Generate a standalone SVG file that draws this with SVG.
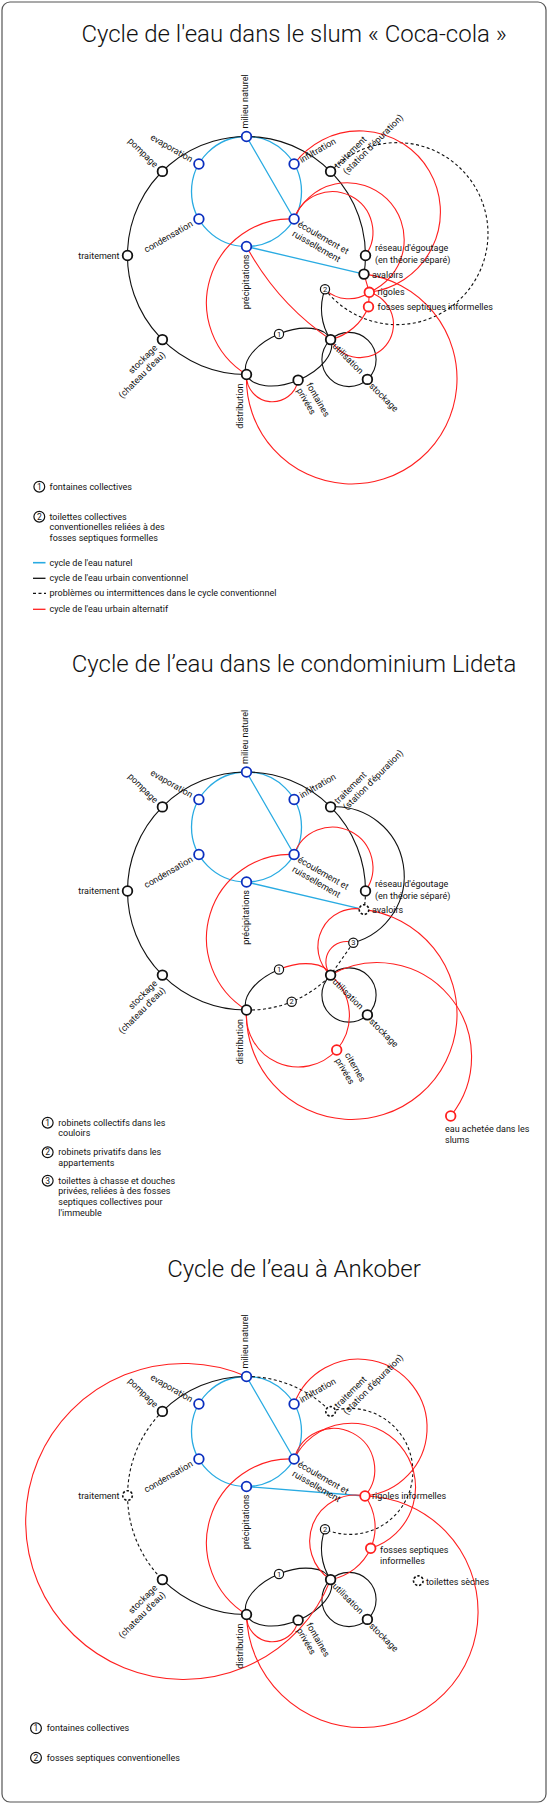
<svg xmlns="http://www.w3.org/2000/svg" width="550" height="1806" viewBox="0 0 550 1806">
<style>
text{font-family:Roboto,"Liberation Sans",Arial,sans-serif;font-size:9px;fill:#111}
.ti{font-size:24px;font-weight:300;text-anchor:middle}
.e{text-anchor:end}
.n{fill:#fff;stroke:#111;stroke-width:1.8}
.nb{fill:#fff;stroke:#0b2fbf;stroke-width:1.8}
.nr{fill:#fff;stroke:#ff1f1f;stroke-width:1.8}
.nd{fill:#fff;stroke:#111;stroke-width:1.6;stroke-dasharray:2.4 1.8}
.nm{fill:#fff;stroke:#111;stroke-width:1.2}
.d{font-size:7.5px;text-anchor:middle}
.dl{font-size:8.5px;text-anchor:middle}
.k{fill:none;stroke:#111;stroke-width:1.1}
.kd{fill:none;stroke:#111;stroke-width:1.1;stroke-dasharray:3 2.5}
.r{fill:none;stroke:#ff1f1f;stroke-width:1.1}
.b{fill:none;stroke:#29abe2;stroke-width:1.3}
.lb{stroke:#29abe2;stroke-width:1.6}
.lk{stroke:#111;stroke-width:1.3}
.lkd{stroke:#111;stroke-width:1.3;stroke-dasharray:3 2.5}
.lr{stroke:#ff1f1f;stroke-width:1.3}
</style>
<rect id="frame" x="2" y="2" width="544" height="1800" rx="8" fill="#fff" stroke="#555" stroke-width="1.2"/>

<!-- ================= Diagram 1 ================= -->
<text class="ti" x="294" y="42">Cycle de l'eau dans le slum « Coca-cola »</text>
<g id="slum">
<g id="slum-connectors">
<circle class="b" cx="246.5" cy="191.5" r="55"/>
<path class="b" d="M246.5 136.5L294.1 219M246.5 246.5L364 274.1"/>
<path class="k" d="M246.5 374.5A119 119 0 1 1 364 274.1"/>
<ellipse class="k" cx="288.55" cy="357.05" rx="45.5" ry="25" transform="rotate(-22.5 288.55 357.05)"/>
<circle class="k" cx="349" cy="359.5" r="27.1"/>
<path class="k" d="M325 289.3A56 56 0 0 0 330.6 339.6"/>
<path class="kd" d="M330.6 171.4A91 91 0 1 1 325 289.3"/>
<path class="r" d="M294.1 164A81 81 0 1 1 369.3 292.3"/>
<path class="r" d="M294.1 219A57 57 0 1 1 369.3 292.3"/>
<path class="r" d="M294.1 219A40.5 40.5 0 1 1 365.5 255.5"/>
<path class="r" d="M294.1 219A84 84 0 0 0 246.5 374.5"/>
<path class="r" d="M246.5 246.5A266 266 0 0 0 330.6 339.6"/>
<path class="r" d="M246.5 374.5A105.3 105.3 0 1 0 364 274.1"/>
<path class="r" d="M246.5 374.5A26 26 0 0 0 298.1 380.15"/>
<path class="r" d="M368.5 306.7A55 55 0 0 1 330.6 339.6"/>
<path class="r" d="M369.3 292.3A33.3 33.3 0 1 1 330.6 339.6"/>
<path class="r" d="M325 289.3A35 35 0 0 0 369.3 292.3"/>
<path class="r" d="M364 274.1L369.3 292.3L368.5 306.7"/>
</g>
<g id="s-milieu"><circle class="nb" cx="246.5" cy="136.5" r="4.8"/><text transform="translate(246.5 136.5) rotate(-90)" x="8" y="1.5">milieu naturel</text></g>
<g id="s-evaporation"><circle class="nb" cx="198.9" cy="164" r="4.8"/><text class="e" transform="translate(198.9 164) rotate(30)" x="-8" y="3">evaporation</text></g>
<g id="s-infiltration"><circle class="nb" cx="294.1" cy="164" r="4.8"/><text transform="translate(294.1 164) rotate(-30)" x="7" y="3">infiltration</text></g>
<g id="s-condensation"><circle class="nb" cx="198.9" cy="219" r="4.8"/><text class="e" transform="translate(198.9 219) rotate(-30)" x="-8" y="3">condensation</text></g>
<g id="s-ecoulement"><circle class="nb" cx="294.1" cy="219" r="4.8"/><text transform="translate(294.1 219) rotate(30)"><tspan x="6" y="4.5">écoulement et</tspan><tspan x="6" y="15.5">ruissellement</tspan></text></g>
<g id="s-precipitations"><circle class="nb" cx="246.5" cy="246.5" r="4.8"/><text class="e" transform="translate(246.5 246.5) rotate(-90)" x="-8" y="2">précipitations</text></g>
<g id="s-pompage"><circle class="n" cx="162.4" cy="171.4" r="4.8"/><text class="e" transform="translate(162.4 171.4) rotate(45)" x="-8" y="3.5">pompage</text></g>
<g id="s-traitement"><circle class="n" cx="127.5" cy="255.5" r="4.8"/><text class="e" x="119.5" y="258.5">traitement</text></g>
<g id="s-stockage"><circle class="n" cx="162.4" cy="339.6" r="4.8"/><text class="e" transform="translate(162.4 339.6) rotate(-45)"><tspan x="-9.5" y="3">stockage</tspan><tspan x="-8.5" y="13.5">(chateau d'eau)</tspan></text></g>
<g id="s-distribution"><circle class="n" cx="246.5" cy="374.5" r="4.8"/><text class="e" transform="translate(246.5 374.5) rotate(-90)" x="-9" y="-3.5">distribution</text></g>
<g id="s-station"><circle class="n" cx="330.6" cy="171.4" r="4.8"/><text transform="translate(330.6 171.4) rotate(-45)"><tspan x="7" y="3.5">traitement</tspan><tspan x="9" y="14">(station d'épuration)</tspan></text></g>
<g id="s-reseau"><circle class="n" cx="365.5" cy="255.5" r="4.8"/><text><tspan x="375" y="251">réseau d'égoutage</tspan><tspan x="375" y="263">(en théorie séparé)</tspan></text></g>
<g id="s-avaloirs"><circle class="n" cx="364" cy="274.1" r="4.8"/><text x="372" y="277.5">avaloirs</text></g>
<g id="s-rigoles"><circle class="nr" cx="369.3" cy="292.3" r="4.8"/><text x="377.5" y="295.3">rigoles</text></g>
<g id="s-fosses"><circle class="nr" cx="368.5" cy="306.7" r="4.8"/><text x="377.5" y="310">fosses septiques informelles</text></g>
<g id="s-utilisation"><circle class="n" cx="330.6" cy="339.6" r="4.8"/><text transform="translate(330.6 339.6) rotate(45)" x="6" y="4">utilisation</text></g>
<g id="s-stockage2"><circle class="n" cx="367.4" cy="379.4" r="4.8"/><text transform="translate(367.4 379.4) rotate(45)" x="6" y="4">stockage</text></g>
<g id="s-fontaines"><circle class="n" cx="298.1" cy="380.15" r="4.8"/><text transform="translate(298.1 380.15) rotate(60)"><tspan x="8" y="-4.5">fontaines</tspan><tspan x="8" y="6.5">privées</tspan></text></g>
<g id="s-n1"><circle class="nm" cx="279" cy="334" r="4.6"/><text class="d" x="279" y="336.7">1</text></g>
<g id="s-n2"><circle class="nm" cx="325" cy="289.3" r="4.6"/><text class="d" x="325" y="292">2</text></g>
</g>
<g id="legend1">
<circle class="nm" cx="39.3" cy="486.7" r="5.4"/><text class="dl" x="39.3" y="489.8">1</text>
<text x="49.5" y="489.8">fontaines collectives</text>
<circle class="nm" cx="39.3" cy="516.7" r="5.4"/><text class="dl" x="39.3" y="519.8">2</text>
<text><tspan x="49.5" y="519.6">toilettes collectives</tspan><tspan x="49.5" y="530.4">conventionelles reliées à des</tspan><tspan x="49.5" y="541.2">fosses septiques formelles</tspan></text>
<line class="lb" x1="33" y1="562.7" x2="45.5" y2="562.7"/><text x="49.5" y="565.7">cycle de l'eau naturel</text>
<line class="lk" x1="33" y1="578.3" x2="45.5" y2="578.3"/><text x="49.5" y="581.3">cycle de l'eau urbain conventionnel</text>
<line class="lkd" x1="33" y1="593.3" x2="46" y2="593.3"/><text x="49.5" y="596.3">problèmes ou intermittences dans le cycle conventionnel</text>
<line class="lr" x1="33" y1="609.3" x2="45.5" y2="609.3"/><text x="49.5" y="612.3">cycle de l'eau urbain alternatif</text>
</g>

<!-- ================= Diagram 2 ================= -->
<text class="ti" x="294" y="672">Cycle de l’eau dans le condominium Lideta</text>
<g id="lideta" transform="translate(0 635.5)">
<g id="lideta-connectors">
<circle class="b" cx="246.5" cy="191.5" r="55"/>
<path class="b" d="M246.5 136.5L294.1 219M246.5 246.5L364 274.1"/>
<path class="k" d="M246.5 374.5A119 119 0 1 1 365.5 255.5"/>
<path class="kd" d="M365.5 255.5A119 119 0 0 1 364 274.1"/>
<path class="k" d="M246.5 374.5A45.5 25 -22.5 0 1 278.98 333.95"/>
<circle class="k" cx="349" cy="359.5" r="27.1"/>
<path class="k" d="M330.6 171.4A69.2 69.2 0 0 1 353.3 307.2"/>
<path class="kd" d="M353.3 307.2L330.6 339.6"/>
<path class="kd" d="M246.5 374.5A112 112 0 0 0 330.6 339.6"/>
<path class="r" d="M278.98 333.95A45.5 25 -22.5 0 1 330.6 339.6"/>
<path class="r" d="M294.1 219A40.5 40.5 0 1 1 365.5 255.5"/>
<path class="r" d="M294.1 219A84 84 0 0 0 246.5 374.5"/>
<path class="r" d="M364 274.1A38 38 0 0 0 330.6 339.6"/>
<path class="r" d="M353.3 307.2A20.5 20.5 0 0 0 330.6 339.6"/>
<path class="r" d="M330.6 339.6A53 53 0 0 1 336.7 414.5"/>
<path class="r" d="M246.5 374.5A52 52 0 0 0 336.7 414.5"/>
<path class="r" d="M246.5 374.5A105.3 105.3 0 1 0 364 274.1"/>
<path class="r" d="M330.6 339.6A94.2 94.2 0 0 1 450.7 480.5"/>
</g>
<g id="l-milieu"><circle class="nb" cx="246.5" cy="136.5" r="4.8"/><text transform="translate(246.5 136.5) rotate(-90)" x="8" y="1.5">milieu naturel</text></g>
<g id="l-evaporation"><circle class="nb" cx="198.9" cy="164" r="4.8"/><text class="e" transform="translate(198.9 164) rotate(30)" x="-8" y="3">evaporation</text></g>
<g id="l-infiltration"><circle class="nb" cx="294.1" cy="164" r="4.8"/><text transform="translate(294.1 164) rotate(-30)" x="7" y="3">infiltration</text></g>
<g id="l-condensation"><circle class="nb" cx="198.9" cy="219" r="4.8"/><text class="e" transform="translate(198.9 219) rotate(-30)" x="-8" y="3">condensation</text></g>
<g id="l-ecoulement"><circle class="nb" cx="294.1" cy="219" r="4.8"/><text transform="translate(294.1 219) rotate(30)"><tspan x="6" y="4.5">écoulement et</tspan><tspan x="6" y="15.5">ruissellement</tspan></text></g>
<g id="l-precipitations"><circle class="nb" cx="246.5" cy="246.5" r="4.8"/><text class="e" transform="translate(246.5 246.5) rotate(-90)" x="-8" y="2">précipitations</text></g>
<g id="l-pompage"><circle class="n" cx="162.4" cy="171.4" r="4.8"/><text class="e" transform="translate(162.4 171.4) rotate(45)" x="-8" y="3.5">pompage</text></g>
<g id="l-traitement"><circle class="n" cx="127.5" cy="255.5" r="4.8"/><text class="e" x="119.5" y="258.5">traitement</text></g>
<g id="l-stockage"><circle class="n" cx="162.4" cy="339.6" r="4.8"/><text class="e" transform="translate(162.4 339.6) rotate(-45)"><tspan x="-9.5" y="3">stockage</tspan><tspan x="-8.5" y="13.5">(chateau d'eau)</tspan></text></g>
<g id="l-distribution"><circle class="n" cx="246.5" cy="374.5" r="4.8"/><text class="e" transform="translate(246.5 374.5) rotate(-90)" x="-9" y="-3.5">distribution</text></g>
<g id="l-station"><circle class="n" cx="330.6" cy="171.4" r="4.8"/><text transform="translate(330.6 171.4) rotate(-45)"><tspan x="7" y="3.5">traitement</tspan><tspan x="9" y="14">(station d'épuration)</tspan></text></g>
<g id="l-reseau"><circle class="n" cx="365.5" cy="255.5" r="4.8"/><text><tspan x="375" y="251">réseau d'égoutage</tspan><tspan x="375" y="263">(en théorie séparé)</tspan></text></g>
<g id="l-avaloirs"><circle class="nd" cx="364" cy="274.1" r="4.8"/><text x="372" y="277.5">avaloirs</text></g>
<g id="l-utilisation"><circle class="n" cx="330.6" cy="339.6" r="4.8"/><text transform="translate(330.6 339.6) rotate(45)" x="6" y="4">utilisation</text></g>
<g id="l-stockage2"><circle class="n" cx="367.4" cy="379.4" r="4.8"/><text transform="translate(367.4 379.4) rotate(45)" x="6" y="4">stockage</text></g>
<g id="l-citernes"><circle class="nr" cx="336.7" cy="414.5" r="4.8"/><text transform="translate(336.7 414.5) rotate(60)"><tspan x="8" y="-4.5">citernes</tspan><tspan x="8" y="6.5">privées</tspan></text></g>
<g id="l-eau"><circle class="nr" cx="450.7" cy="480.5" r="4.8"/><text><tspan x="445" y="496.2">eau achetée dans les</tspan><tspan x="445" y="507.3">slums</tspan></text></g>
<g id="l-n1"><circle class="nm" cx="279" cy="334" r="4.6"/><text class="d" x="279" y="336.7">1</text></g>
<g id="l-n2"><circle class="nm" cx="291.7" cy="366.2" r="4.6"/><text class="d" x="291.7" y="368.9">2</text></g>
<g id="l-n3"><circle class="nm" cx="353.3" cy="307.2" r="4.6"/><text class="d" x="353.3" y="309.9">3</text></g>
</g>
<g id="legend2">
<circle class="nm" cx="47.7" cy="1122.7" r="5.4"/><text class="dl" x="47.7" y="1125.8">1</text>
<text><tspan x="58.3" y="1125.7">robinets collectifs dans les</tspan><tspan x="58.3" y="1136.4">couloirs</tspan></text>
<circle class="nm" cx="47.7" cy="1152.3" r="5.4"/><text class="dl" x="47.7" y="1155.4">2</text>
<text><tspan x="58.3" y="1155.3">robinets privatifs dans les</tspan><tspan x="58.3" y="1166">appartements</tspan></text>
<circle class="nm" cx="47.7" cy="1180.7" r="5.4"/><text class="dl" x="47.7" y="1183.8">3</text>
<text><tspan x="58.3" y="1183.7">toilettes à chasse et douches</tspan><tspan x="58.3" y="1194.4">privées, reliées à des fosses</tspan><tspan x="58.3" y="1205.1">septiques collectives pour</tspan><tspan x="58.3" y="1215.8">l'immeuble</tspan></text>
</g>

<!-- ================= Diagram 3 ================= -->
<text class="ti" x="294" y="1277">Cycle de l’eau à Ankober</text>
<g id="ankober" transform="translate(0 1240)">
<g id="ankober-connectors">
<circle class="b" cx="246.5" cy="191.5" r="55"/>
<path class="b" d="M246.5 136.5L294.1 219M246.5 246.5L365 256"/>
<path class="k" d="M246.5 136.5A119 119 0 0 0 162.4 171.4"/>
<path class="kd" d="M162.4 171.4A119 119 0 0 0 162.4 339.6"/>
<path class="k" d="M162.4 339.6A119 119 0 0 0 246.5 374.5"/>
<path class="kd" d="M246.5 136.5A119 119 0 0 1 330.6 171.4"/>
<ellipse class="k" cx="288.55" cy="357.05" rx="45.5" ry="25" transform="rotate(-22.5 288.55 357.05)"/>
<circle class="k" cx="349" cy="359.5" r="27.1"/>
<path class="k" d="M325 289.3A56 56 0 0 0 330.6 339.6"/>
<path class="kd" d="M330.6 171.4A63 63 0 1 1 325 289.3"/>
<path class="r" d="M246.5 136.5A158 158 0 1 0 330.6 339.6"/>
<path class="r" d="M294.1 164A68.6 68.6 0 1 1 365 256"/>
<path class="r" d="M294.1 219A41 41 0 1 1 365 256"/>
<path class="r" d="M294.1 219A64 64 0 1 1 370.7 308.3"/>
<path class="r" d="M365 256A53 53 0 0 1 370.7 308.3"/>
<path class="r" d="M370.7 308.3A55 55 0 0 1 330.6 339.6"/>
<path class="r" d="M365 256A46 46 0 0 0 330.6 339.6"/>
<path class="r" d="M365 256A115.8 115.8 0 1 1 246.5 374.5"/>
<path class="r" d="M294.1 219A84 84 0 0 0 246.5 374.5"/>
<path class="r" d="M246.5 374.5A26 26 0 0 0 298.1 380.15"/>
</g>
<g id="a-milieu"><circle class="nb" cx="246.5" cy="136.5" r="4.8"/><text transform="translate(246.5 136.5) rotate(-90)" x="8" y="1.5">milieu naturel</text></g>
<g id="a-evaporation"><circle class="nb" cx="198.9" cy="164" r="4.8"/><text class="e" transform="translate(198.9 164) rotate(30)" x="-8" y="3">evaporation</text></g>
<g id="a-infiltration"><circle class="nb" cx="294.1" cy="164" r="4.8"/><text transform="translate(294.1 164) rotate(-30)" x="7" y="3">infiltration</text></g>
<g id="a-condensation"><circle class="nb" cx="198.9" cy="219" r="4.8"/><text class="e" transform="translate(198.9 219) rotate(-30)" x="-8" y="3">condensation</text></g>
<g id="a-ecoulement"><circle class="nb" cx="294.1" cy="219" r="4.8"/><text transform="translate(294.1 219) rotate(30)"><tspan x="6" y="4.5">écoulement et</tspan><tspan x="6" y="15.5">ruissellement</tspan></text></g>
<g id="a-precipitations"><circle class="nb" cx="246.5" cy="246.5" r="4.8"/><text class="e" transform="translate(246.5 246.5) rotate(-90)" x="-8" y="2">précipitations</text></g>
<g id="a-pompage"><circle class="n" cx="162.4" cy="171.4" r="4.8"/><text class="e" transform="translate(162.4 171.4) rotate(45)" x="-8" y="3.5">pompage</text></g>
<g id="a-traitement"><circle class="nd" cx="127.5" cy="255.5" r="4.8"/><text class="e" x="119.5" y="258.5">traitement</text></g>
<g id="a-stockage"><circle class="n" cx="162.4" cy="339.6" r="4.8"/><text class="e" transform="translate(162.4 339.6) rotate(-45)"><tspan x="-9.5" y="3">stockage</tspan><tspan x="-8.5" y="13.5">(chateau d'eau)</tspan></text></g>
<g id="a-distribution"><circle class="n" cx="246.5" cy="374.5" r="4.8"/><text class="e" transform="translate(246.5 374.5) rotate(-90)" x="-9" y="-3.5">distribution</text></g>
<g id="a-station"><circle class="nd" cx="330.6" cy="171.4" r="4.8"/><text transform="translate(330.6 171.4) rotate(-45)"><tspan x="7" y="3.5">traitement</tspan><tspan x="9" y="14">(station d'épuration)</tspan></text></g>
<g id="a-rigoles"><circle class="nr" cx="365" cy="256" r="4.8"/><text x="372" y="259">rigoles informelles</text></g>
<g id="a-fosses"><circle class="nr" cx="370.7" cy="308.3" r="4.8"/><text><tspan x="380" y="313.3">fosses septiques</tspan><tspan x="380" y="324.3">informelles</tspan></text></g>
<g id="a-toilettes"><circle class="nd" cx="418.3" cy="340.7" r="4.8"/><text x="426" y="345.2">toilettes sèches</text></g>
<g id="a-utilisation"><circle class="n" cx="330.6" cy="339.6" r="4.8"/><text transform="translate(330.6 339.6) rotate(45)" x="6" y="4">utilisation</text></g>
<g id="a-stockage2"><circle class="n" cx="367.4" cy="379.4" r="4.8"/><text transform="translate(367.4 379.4) rotate(45)" x="6" y="4">stockage</text></g>
<g id="a-fontaines"><circle class="n" cx="298.1" cy="380.15" r="4.8"/><text transform="translate(298.1 380.15) rotate(60)"><tspan x="8" y="-4.5">fontaines</tspan><tspan x="8" y="6.5">privées</tspan></text></g>
<g id="a-n1"><circle class="nm" cx="279" cy="334" r="4.6"/><text class="d" x="279" y="336.7">1</text></g>
<g id="a-n2"><circle class="nm" cx="325" cy="289.3" r="4.6"/><text class="d" x="325" y="292">2</text></g>
</g>
<g id="legend3">
<circle class="nm" cx="36" cy="1728.3" r="5.4"/><text class="dl" x="36" y="1731.4">1</text>
<text x="46.7" y="1731.3">fontaines collectives</text>
<circle class="nm" cx="36" cy="1757.7" r="5.4"/><text class="dl" x="36" y="1760.8">2</text>
<text x="46.7" y="1760.7">fosses septiques conventionelles</text>
</g>
</svg>
